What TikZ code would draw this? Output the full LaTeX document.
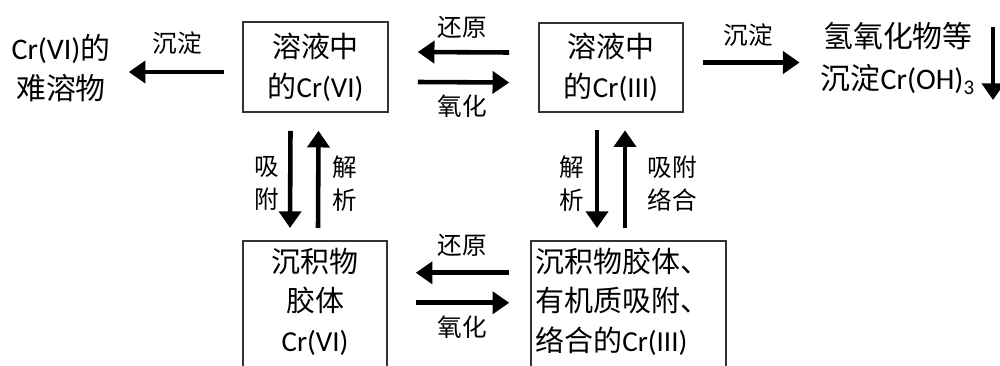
\documentclass[tikz,border=0pt]{standalone}
\usepackage{fontspec}
\setmainfont{Carlito}
\newfontfamily\cjk{Noto Sans CJK SC}
\newcommand\zh[1]{{\cjk #1}}
\usetikzlibrary{arrows.meta}

\begin{document}
\begin{tikzpicture}[x=0.02cm, y=-0.02cm,
  every node/.style={inner sep=0pt, align=center},
  box/.style={draw=black!80, line width=0.9pt},
  boxtxt/.style={font=\fontsize{16.5}{22.5}\selectfont},
  lbl/.style={font=\cjk\fontsize{14}{18.5}\selectfont},
  arr/.style={line width=2.6pt, -{Triangle[length=9.5pt,width=12.5pt]}}]
  \useasboundingbox (0,0) rectangle (1000,365);
  \clip (0,0) rectangle (1000,365);
              \node[box, boxtxt, minimum width=2.9cm, minimum height=1.8cm] (sixaq) at (315.5,67) {\zh{溶液中}\\\zh{的}Cr(VI)};
              \node[box, boxtxt, minimum width=2.88cm, minimum height=1.78cm] (threeaq) at (611,67.5) {\zh{溶液中}\\\zh{的}Cr(III)};
              \node[boxtxt, font=\fontsize{17}{23}\selectfont] (sixppt) at (61,68) {Cr(VI)\zh{的}\\\zh{难溶物}};
              \node[boxtxt, font=\fontsize{17}{24}\selectfont] (hydrox) at (898,58.5) {\zh{氢氧化物等}\\\zh{沉淀}Cr(OH)\textsubscript{3}};
              \node[box, minimum width=2.88cm, minimum height=2.8cm, anchor=north] (sedvi) at (315,240) {};
              \node[boxtxt] (sedvitxt) at (315,301.5) {\zh{沉积物}\\\zh{胶体}\\Cr(VI)};
              \node[box, minimum width=3.9cm, minimum height=2.8cm, anchor=north] (sedthree) at (628.5,240) {};
              \node[boxtxt, align=left, anchor=west] (sedthreetxt) at (535,301.5) {\zh{沉积物胶体、}\\\zh{有机质吸附、}\\\zh{络合的}Cr(III)};
              \coordinate (dtop) at (993,27);
              \coordinate (dbot) at (993,100);
              \node[lbl] (l1) at (177,43) {沉淀};
              \node[lbl] (l2) at (462,27) {还原};
              \node[lbl] (l3) at (462,106) {氧化};
              \node[lbl] (l4) at (748,35) {沉淀};
              \node[lbl] (l5) at (267,183.5) {吸\\附};
              \node[lbl] (l6) at (345,183.5) {解\\析};
              \node[lbl] (l7) at (572,183.5) {解\\析};
              \node[lbl] (l8) at (672,183.5) {吸附\\络合};
              \node[lbl] (l9) at (462,245) {还原};
              \node[lbl] (l10) at (462,327) {氧化};
              \draw[arr] ([shift={(-18,5)}]sixaq.west) -- ([shift={(18,4)}]sixppt.east);
              \draw[arr] ([shift={(-29,-15)}]threeaq.west) -- ([shift={(29,-15)}]sixaq.east);
              \draw[arr] ([shift={(29,15)}]sixaq.east) -- ([shift={(-29,15)}]threeaq.west);
              \draw[arr] ([shift={(19,-5)}]threeaq.east) -- ([shift={(-21,4)}]hydrox.west);
              \draw[arr] (dtop) -- (dbot);
              \draw[arr] ([shift={(-25,18)}]sixaq.south) -- ([shift={(-25,-12)}]sedvi.north);
              \draw[arr] ([shift={(3,-12)}]sedvi.north) -- ([shift={(3,18)}]sixaq.south);
              \draw[arr] ([shift={(-14,17.5)}]threeaq.south) -- ([shift={(-31.5,-12)}]sedthree.north);
              \draw[arr] ([shift={(-3.5,-12)}]sedthree.north) -- ([shift={(14,17.5)}]threeaq.south);
              \draw[arr] ([shift={(-21,-38)}]sedthree.west) -- ([shift={(28,-38)}]sedvi.east);
              \draw[arr] ([shift={(28,-8)}]sedvi.east) -- ([shift={(-21,-8)}]sedthree.west);
          \end{tikzpicture}
\end{document}
